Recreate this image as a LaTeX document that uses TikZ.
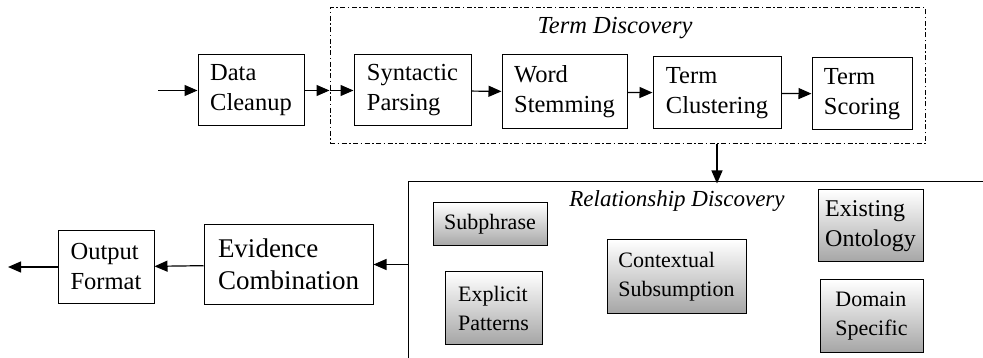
\documentclass[tikz,border=0pt]{standalone}
\usepackage{fontspec}
\setmainfont{Liberation Serif}
\newfontfamily\figfont{Liberation Serif}
\usetikzlibrary{arrows.meta,positioning}
\tikzset{
    stage/.style    = {draw, line width=1pt, align=left, inner sep=3pt,
                      font=\figfont\fontsize{24.5}{30}\selectfont},
    bigstage/.style = {stage, font=\figfont\fontsize{27}{32}\selectfont},
    relcell/.style  = {stage, top color=white, bottom color=gray!70,
                      font=\figfont\fontsize{22}{29}\selectfont},
    groupbox/.style = {draw, line width=1pt, inner sep=0pt},
    dashgroup/.style= {groupbox, dash pattern=on 5pt off 2.5pt on 1.5pt off 2.5pt},
    grouptitle/.style = {font=\figfont\fontsize{24.5}{30}\selectfont\itshape},
    flow/.style     = {line width=1.2pt, -{Triangle[length=13pt,width=11pt]}},
  }
\begin{document}
\begin{tikzpicture}[x=1pt,y=-1pt]
      % page = reference size
      \useasboundingbox (0,0) rectangle (983,358);
      \clip (0,0) rectangle (983,358);

      % the two groups
      \node[dashgroup, minimum width=595pt, minimum height=136pt] (termdisc) at (627.5,76) {};
      \node[grouptitle] (termtitle) at (615,28) {Term Discovery};
      \node[groupbox, minimum width=592pt, minimum height=198pt] (reldisc) at (704,281) {};
      \node[grouptitle, font=\figfont\fontsize{23}{29}\selectfont\itshape] (reltitle) at (677,201) {Relationship Discovery};

      % top row
      \node[stage, minimum width=106pt, minimum height=71pt] (dc) at (251,90.5) {Data\\Cleanup};
      \node[stage, minimum width=117pt, minimum height=71pt] (sp) at (412.5,90.5) {Syntactic\\Parsing};
      \node[stage, minimum width=125pt, minimum height=74pt] (ws) at (564.5,92) {Word\\Stemming};
      \node[stage, minimum width=128pt, minimum height=72pt] (tc) at (717,93) {Term\\Clustering};
      \node[stage, minimum width=100pt, minimum height=72pt] (ts) at (862,94) {Term\\Scoring};

      % relationship methods
      \node[relcell, minimum width=114pt, minimum height=43pt] (sub) at (490,224.5) {Subphrase};
      \node[relcell, minimum width=97pt, minimum height=72pt] (exp) at (493.5,308) {Explicit\\Patterns};
      \node[relcell, minimum width=139pt, minimum height=73pt] (ctx) at (676.5,276.5) {Contextual\\Subsumption};
      \node[relcell, minimum width=105pt, minimum height=72pt, font=\figfont\fontsize{24}{30}\selectfont] (eo) at (870.5,226) {Existing\\Ontology};
      \node[relcell, minimum width=103pt, minimum height=72pt] (ds) at (871.5,316) {Domain\\Specific};

      % bottom row
      \node[bigstage, minimum width=169pt, minimum height=79pt] (ev) at (288.5,264.5) {Evidence\\Combination};
      \node[stage, minimum width=96pt, minimum height=72pt] (of) at (106,267) {Output\\Format};

      % connectors
      \coordinate (in) at (158,90.5);
      \coordinate (out) at (8,267);
      \draw[flow] (in) -- (dc);
      \draw[flow] (dc) -- (dc -| termdisc.west);
      \draw[flow] (sp -| termdisc.west) -- (sp);
      \draw[flow] (sp) -- (ws);
      \draw[flow] (ws) -- (tc);
      \draw[flow] (tc) -- (ts);
      \draw[flow] (termdisc.south -| tc) -- ([yshift=-2pt]reldisc.north -| tc);
      \draw[flow] (ev -| reldisc.west) -- (ev);
      \draw[flow] (ev) -- (of);
      \draw[flow] (of) -- (out);
    \end{tikzpicture}
\end{document}
